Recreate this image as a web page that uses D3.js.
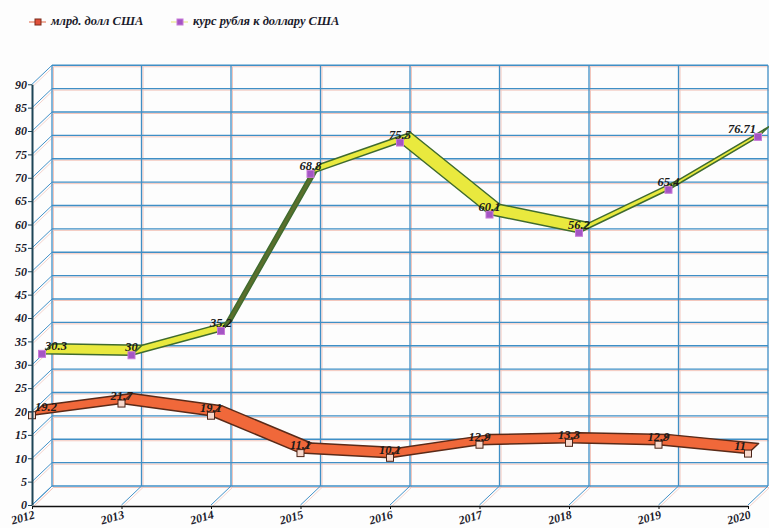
<!DOCTYPE html>
<html>
<head>
<meta charset="utf-8">
<script src="https://cdn.jsdelivr.net/npm/d3@7"></script>
<style>
	body { margin: 0; background: #fdfdfd; }
	text { font-family: 'Liberation Serif', 'DejaVu Serif', serif; font-weight: bold; font-style: italic; }
</style>
</head>
<body>
<div id="chart"></div>
<script>
// data
const years = [2012, 2013, 2014, 2015, 2016, 2017, 2018, 2019, 2020]
const debt = [19.2, 21.7, 19.1, 11.1, 10.1, 12.9, 13.3, 12.9, 11]
const rate = [30.3, 30, 35.2, 68.8, 75.5, 60.1, 56.2, 65.4, 76.71]
const yTicks = d3.range(0, 95, 5)
const seriesNames = ['млрд. долл США', 'курс рубля к доллару США']

let width = 769
let height = 528

// depth of the 3d box (back plane offset)
const depth = { x: 20, y: -19 }

const svg = d3.select('#chart').append('svg')
	.attr('width', width)
	.attr('height', height)

const x = d3.scalePoint().domain(years).range([32, 748])
const y = d3.scaleLinear().domain([0, 90]).range([505, 84.25])

const gridColor = '#3f8fc6'
const ghostColor = '#f3c6bc'

// grid, drawn twice: a pinkish ghost copy and the blue lines
function drawGrid(g, off, color, w) {
	// back plane horizontals
	g.selectAll('line.h').data(yTicks).enter().append('line')
		.attr('x1', x(2012) + depth.x + off).attr('x2', x(2020) + depth.x + off)
		.attr('y1', d => y(d) + depth.y + off).attr('y2', d => y(d) + depth.y + off)
		.attr('stroke', color).attr('stroke-width', w)
	// back plane verticals
	g.selectAll('line.v').data(years).enter().append('line')
		.attr('x1', d => x(d) + depth.x + off).attr('x2', d => x(d) + depth.x + off)
		.attr('y1', y(0) + depth.y + off).attr('y2', y(90) + depth.y + off)
		.attr('stroke', color).attr('stroke-width', w)
	// left wall diagonals
	g.selectAll('line.lw').data(yTicks).enter().append('line')
		.attr('x1', x(2012) + off).attr('x2', x(2012) + depth.x + off)
		.attr('y1', d => y(d) + off).attr('y2', d => y(d) + depth.y + off)
		.attr('stroke', color).attr('stroke-width', w * 0.75)
	// floor diagonals
	g.selectAll('line.fl').data(years).enter().append('line')
		.attr('x1', d => x(d) + off).attr('x2', d => x(d) + depth.x + off)
		.attr('y1', y(0) + off).attr('y2', y(0) + depth.y + off)
		.attr('stroke', color).attr('stroke-width', w * 0.75)
}
drawGrid(svg.append('g'), 1.5, ghostColor, 1)
drawGrid(svg.append('g'), 0, gridColor, 1.3)

// ribbons: each series takes a slice of the depth
function ribbon(values, s0, s1, topFill, underFill, stroke) {
	const g = svg.append('g')
	const pt = (i, s) => [x(years[i]) + depth.x * s, y(values[i]) + depth.y * s]
	for (let i = 0; i < values.length - 1; i++) {
		const a = pt(i, s0), b = pt(i + 1, s0), c = pt(i + 1, s1), e = pt(i, s1)
		const cross = (b[0] - a[0]) * (e[1] - a[1]) - (b[1] - a[1]) * (e[0] - a[0])
		g.append('polygon')
			.attr('points', [a, b, c, e].map(p => p.join(',')).join(' '))
			.attr('fill', cross < 0 ? topFill : underFill)
			.attr('stroke', stroke)
			.attr('stroke-width', 1.5)
			.attr('stroke-linejoin', 'round')
	}
	return pt
}

const ratePt = ribbon(rate, 0.5, 1.03, '#e9e93e', '#5b6f2c', '#3f6b2e')
const debtPt = ribbon(debt, 0, 0.53, '#f0683a', '#b8482a', '#5a2a18')

// markers
function markers(values, pt, s, fill, stroke) {
	svg.append('g').selectAll('rect').data(values).enter().append('rect')
		.attr('x', (d, i) => pt(i, s)[0] - 3.5)
		.attr('y', (d, i) => pt(i, s)[1] - 3.5)
		.attr('width', 7).attr('height', 7)
		.attr('fill', fill).attr('stroke', stroke).attr('stroke-width', 1)
}
markers(rate, ratePt, 0.5, '#a455c4', '#c87ad8')
markers(debt, debtPt, 0, '#f7d8cc', '#4a2418')

// value labels
function labels(values, pt, s) {
	const n = values.length
	svg.append('g').selectAll('text').data(values).enter().append('text')
		.attr('x', (d, i) => pt(i, s)[0] + (i == 0 ? 3 : i == n - 1 ? -2 : 0))
		.attr('y', (d, i) => pt(i, s)[1] - 4)
		.attr('text-anchor', (d, i) => i == 0 ? 'start' : i == n - 1 ? 'end' : 'middle')
		.style('font-size', '12.5px')
		.attr('fill', '#1a1a1a')
		.text(d => String(d))
}
labels(rate, ratePt, 0.5)
labels(debt, debtPt, 0)

// y axis (front left edge)
const yAxis = svg.append('g')
	.attr('transform', `translate(${x(2012)},0)`)
	.call(d3.axisLeft(y).tickValues(yTicks).tickSize(4).tickSizeOuter(0))
yAxis.select('.domain').attr('stroke', '#1d4456').attr('stroke-width', 2)
yAxis.selectAll('.tick line').attr('stroke', '#1d4456')
yAxis.selectAll('.tick text')
	.attr('x', -5)
	.style('font-size', '12px')
	.style('font-family', "'Liberation Serif', serif")
	.attr('fill', '#1a1a2a')

// x axis (front bottom edge)
const xAxis = svg.append('g')
	.attr('transform', `translate(0,${y(0) + 1})`)
	.call(d3.axisBottom(x).tickSize(3).tickSizeOuter(0))
xAxis.select('.domain').attr('stroke', '#111').attr('stroke-width', 1.5)
xAxis.selectAll('.tick line').attr('stroke', '#111')
xAxis.selectAll('.tick text')
	.attr('y', 0).attr('dy', 0)
	.attr('text-anchor', 'end')
	.attr('transform', 'translate(3,12) rotate(-16)')
	.style('font-size', '12px')
	.style('font-family', "'Liberation Serif', serif")
	.attr('fill', '#1a1a2a')

// legend
const legend = svg.append('g')
const legendItems = [
	{ name: seriesNames[0], x: 38, line: '#eeb0a0', fill: '#e0503a', stroke: '#7a2a1a' },
	{ name: seriesNames[1], x: 180, line: '#f0f0b8', fill: '#a455c4', stroke: '#c87ad8' }
]
legendItems.forEach(d => {
	legend.append('line')
		.attr('x1', d.x - 9).attr('x2', d.x + 8)
		.attr('y1', 22).attr('y2', 22)
		.attr('stroke', d.line).attr('stroke-width', 2)
	legend.append('rect')
		.attr('x', d.x - 3).attr('y', 19)
		.attr('width', 6).attr('height', 6)
		.attr('fill', d.fill).attr('stroke', d.stroke)
	legend.append('text')
		.attr('x', d.x + 13).attr('y', 25)
		.style('font-size', '12.5px')
		.attr('fill', '#1a1a2a')
		.text(d.name)
})
</script>
</body>
</html>
